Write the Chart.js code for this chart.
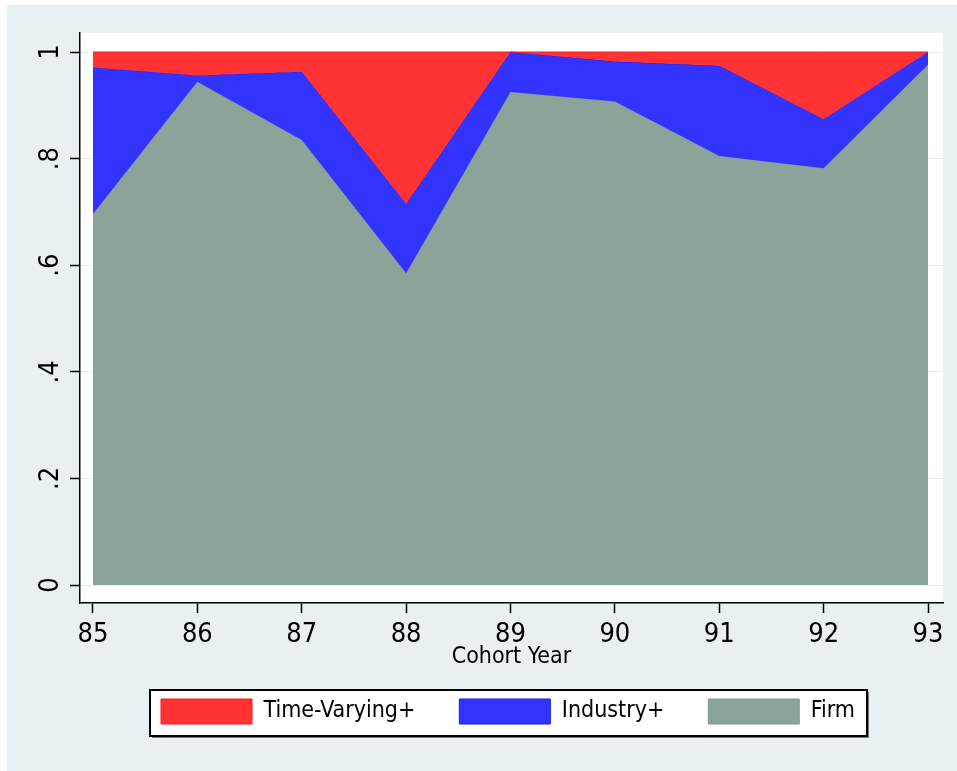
<!DOCTYPE html>
<html>
<head>
<meta charset="utf-8">
<script src="https://cdn.jsdelivr.net/npm/chart.js@4.4.1/dist/chart.umd.min.js"></script>
<style>
  html, body { margin: 0; padding: 0; background: #ffffff; }
  canvas { display: block; }
</style>
</head>
<body>
<canvas id="c" width="957" height="771"></canvas>
<script>
// ---- data ----
const cohortYears = [85, 86, 87, 88, 89, 90, 91, 92, 93];
const firmShare = [0.696, 0.944, 0.835, 0.585, 0.925, 0.907, 0.805, 0.782, 0.976];
const industryPlusShare = [0.971, 0.956, 0.963, 0.715, 1.0, 0.982, 0.974, 0.874, 1.0];
const timeVaryingPlusShare = [1, 1, 1, 1, 1, 1, 1, 1, 1];
const yTickValues = [0, 0.2, 0.4, 0.6, 0.8, 1];
const seriesNames = ['Time-Varying+', 'Industry+', 'Firm'];

const FONT = "'Liberation Sans Narrow', 'DejaVu Sans Condensed', 'Arial Narrow', sans-serif";
const BG = '#e8f0f2';
const LEGEND_FONT = 23;
const LEGEND_BOX_H = 25;

const toPts = arr => cohortYears.map((yr, i) => ({ x: yr, y: arr[i] }));

const framePlugin = {
  id: 'frame',
  afterLayout(chart) {
    const lg = chart.legend;
    if (!lg) return;
    const pad = lg.options.labels.padding;
    const w = lg.right - lg.left;
    const h = lg.bottom - lg.top;
    const lw = lg.lineWidths[0];
    const L = 161 - (pad + w - lw) / 2;
    lg.left = L; lg.right = L + w;
    const T = 699 - pad - Math.max((LEGEND_FONT - LEGEND_BOX_H) / 2, 0);
    lg.top = T; lg.bottom = T + h;
  },
  beforeDraw(chart) {
    const ctx = chart.ctx;
    const a = chart.chartArea;
    ctx.save();
    ctx.fillStyle = '#ffffff';
    ctx.fillRect(0, 0, chart.width, chart.height);
    ctx.fillStyle = BG;
    ctx.fillRect(7, 5, chart.width - 7, chart.height - 5);
    ctx.fillStyle = '#ffffff';
    ctx.fillRect(a.left, a.top, a.right - a.left, a.bottom - a.top);
    // legend frame
    const lg = chart.legend;
    const pad = lg.options.labels.padding;
    const lw = lg.lineWidths[0];
    const x0 = (lg.left + pad + lg.right - lw) / 2;
    const x1 = x0 + lw - pad;
    const yTop = lg.top + pad;
    const bx = x0 - 11, by = yTop - 9, bw = (x1 + 12) - bx, bhh = 46;
    ctx.fillStyle = '#7a7a7a';
    ctx.fillRect(bx + 2, by + 2, bw, bhh);
    ctx.fillStyle = '#ffffff';
    ctx.fillRect(bx, by, bw, bhh);
    ctx.strokeStyle = '#000000';
    ctx.lineWidth = 2;
    ctx.strokeRect(bx, by, bw, bhh);
    ctx.restore();
  }
};

new Chart(document.getElementById('c'), {
  type: 'line',
  data: {
    datasets: [
      {
        label: seriesNames[0],
        data: toPts(timeVaryingPlusShare),
        backgroundColor: '#ff3333',
        borderColor: '#ff1a1a',
        borderWidth: 1,
        fill: '+1',
        pointRadius: 0,
        tension: 0
      },
      {
        label: seriesNames[1],
        data: toPts(industryPlusShare),
        backgroundColor: '#3333ff',
        borderColor: '#1a1aff',
        borderWidth: 1,
        fill: '+1',
        pointRadius: 0,
        tension: 0
      },
      {
        label: seriesNames[2],
        data: toPts(firmShare),
        backgroundColor: '#8aa499',
        borderColor: '#7f9a90',
        borderWidth: 1,
        fill: 'origin',
        pointRadius: 0,
        tension: 0
      }
    ]
  },
  options: {
    responsive: false,
    animation: false,
    devicePixelRatio: 1,
    layout: { padding: { left: 7, right: 14, top: 33, bottom: 21 } },
    plugins: {
      tooltip: { enabled: false },
      legend: {
        position: 'bottom',
        labels: {
          boxWidth: 91,
          boxHeight: LEGEND_BOX_H,
          padding: 44,
          color: '#000000',
          font: { family: FONT, size: LEGEND_FONT }
        }
      }
    },
    scales: {
      x: {
        type: 'linear',
        min: 84.8755,
        max: 93.1437,
        afterBuildTicks: s => { s.ticks = cohortYears.map(v => ({ value: v })); },
        afterFit: s => { s.height = 68; },
        ticks: {
          autoSkip: false,
          maxRotation: 0,
          minRotation: 0,
          padding: 6,
          color: '#000000',
          font: { family: FONT, size: 27 },
          callback: v => String(v)
        },
        grid: {
          drawOnChartArea: false,
          drawTicks: true,
          tickLength: 10,
          tickColor: '#000000',
          tickWidth: 1.5
        },
        border: { display: true, color: '#000000', width: 1.5 },
        title: {
          display: true,
          text: 'Cohort Year',
          color: '#000000',
          padding: { top: 0, bottom: 0 },
          font: { family: FONT, size: 23, lineHeight: 1.2 }
        }
      },
      y: {
        type: 'linear',
        min: -0.03377,
        max: 1.03565,
        afterBuildTicks: s => { s.ticks = yTickValues.map(v => ({ value: v })); },
        afterFit: s => { s.width = 73; },
        ticks: {
          autoSkip: false,
          minRotation: 90,
          maxRotation: 90,
          crossAlign: 'center',
          padding: 7,
          color: '#000000',
          font: { family: FONT, size: 27 },
          callback: v => (v === 0 ? '0' : v === 1 ? '1' : String(Math.round(v * 10) / 10).replace(/^0/, ''))
        },
        grid: {
          color: '#e3ecee',
          lineWidth: 1,
          drawTicks: true,
          tickLength: 10,
          tickColor: '#000000',
          tickWidth: 1.5
        },
        border: { display: true, color: '#000000', width: 1.5 }
      }
    }
  },
  plugins: [framePlugin]
});
</script>
</body>
</html>
